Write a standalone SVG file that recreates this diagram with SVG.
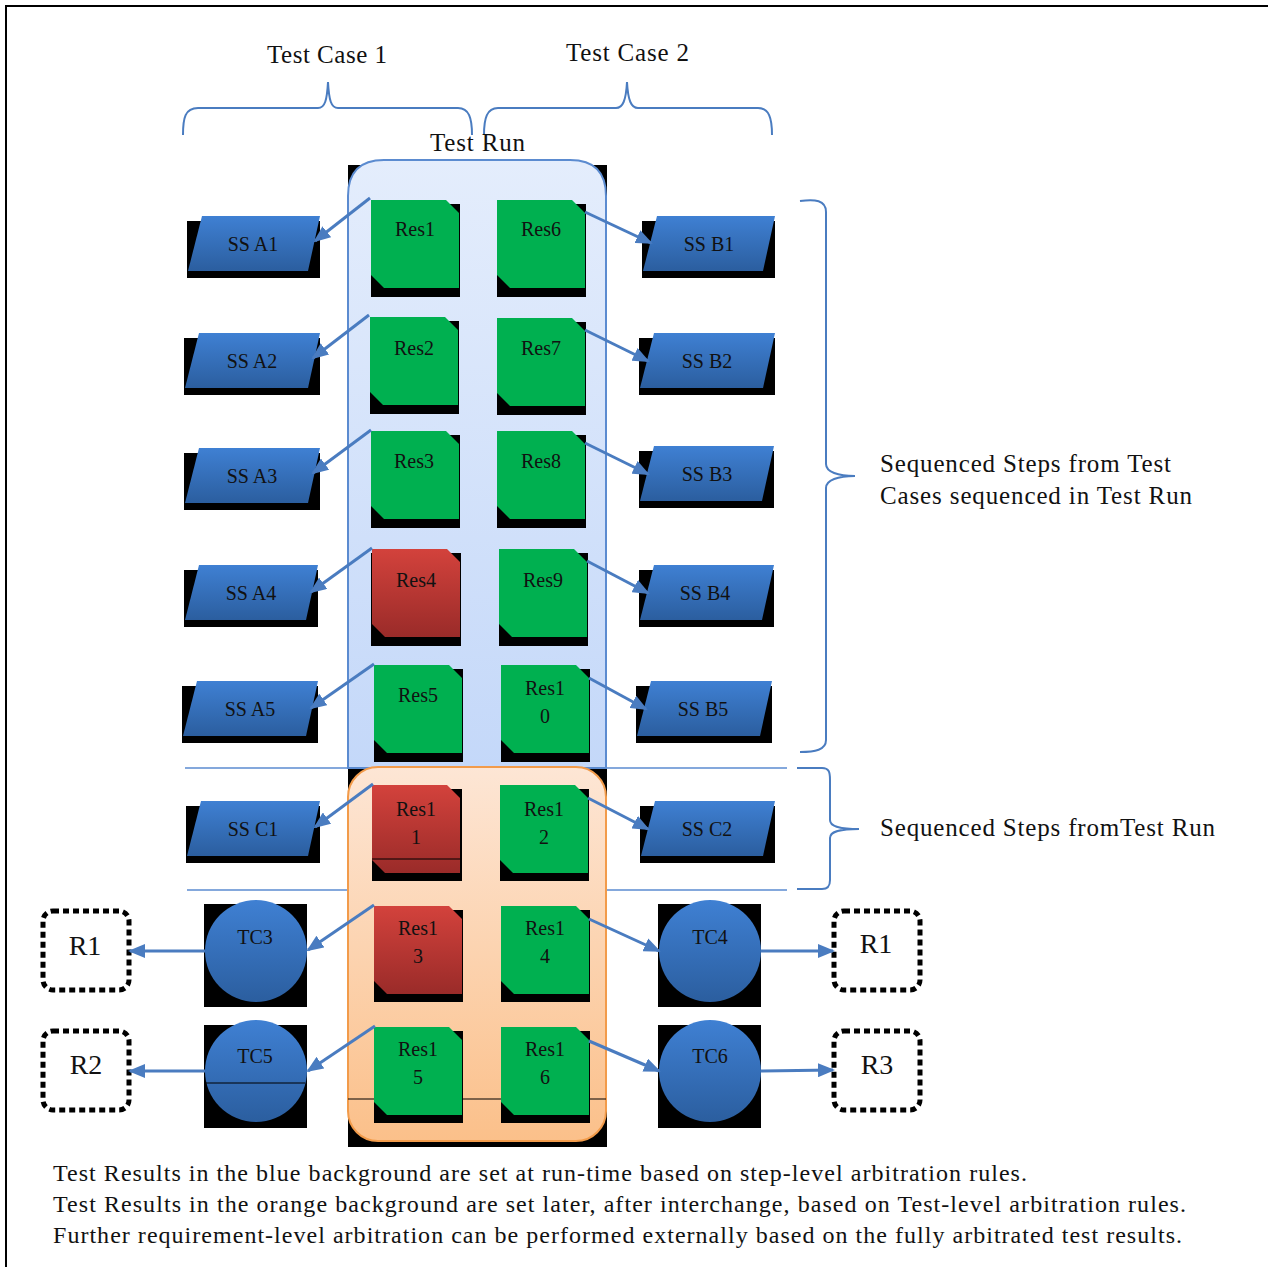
<svg xmlns="http://www.w3.org/2000/svg" width="1268" height="1267" viewBox="0 0 1268 1267">
<defs>
<linearGradient id="gBlue" x1="0" y1="0" x2="0" y2="1"><stop offset="0" stop-color="#3f80d3"/><stop offset="1" stop-color="#2b5e9f"/></linearGradient>
<linearGradient id="gRed" x1="0" y1="0" x2="0" y2="1"><stop offset="0" stop-color="#d3423c"/><stop offset="1" stop-color="#9a2b29"/></linearGradient>
<linearGradient id="gRun" x1="0" y1="0" x2="0" y2="1"><stop offset="0" stop-color="#e4edfc"/><stop offset="1" stop-color="#c4d8f9"/></linearGradient>
<linearGradient id="gOr" x1="0" y1="0" x2="0" y2="1"><stop offset="0" stop-color="#fde6d5"/><stop offset="1" stop-color="#fbc08a"/></linearGradient>
<marker id="ah" markerUnits="userSpaceOnUse" markerWidth="17" markerHeight="14" refX="15" refY="7" orient="auto"><path d="M0,0 L17,7 L0,14 Z" fill="#4a7cc0"/></marker>
<style>
text{font-family:"Liberation Serif","Times New Roman",serif;fill:#111}
.t{font-size:25px}
.lbl{font-size:20px;text-anchor:middle}
.rl{font-size:28px;text-anchor:middle}
.side{font-size:25px}
.note{font-size:24px}
.green{fill:#00b050}
.red{fill:url(#gRed)}
.ss{fill:url(#gBlue)}
.sh{fill:#000}
.conn line, .conn path{stroke:#4a7cc0;stroke-width:3;fill:none;marker-end:url(#ah)}
.brace{stroke:#4a7cc0;stroke-width:2;fill:none}
.sep{stroke:#5b8bd0;stroke-width:1.5}
.rbox{fill:none;stroke:#000;stroke-width:5;stroke-dasharray:6 4}
.art{stroke:#000;stroke-width:1.2}
</style>
</defs>
<rect x="0" y="0" width="1268" height="1267" fill="#fff"/>
<rect x="6" y="6" width="1275" height="1275" fill="none" stroke="#000" stroke-width="2"/>

<!-- titles and braces -->
<g id="labels">
<text class="t" x="267" y="63" textLength="120">Test Case 1</text>
<text class="t" x="566" y="61" textLength="123">Test Case 2</text>
<text class="side" x="880" y="472" textLength="291">Sequenced Steps from Test</text>
<text class="side" x="880" y="504" textLength="312">Cases sequenced in Test Run</text>
<text class="side" x="880" y="836" textLength="335">Sequenced Steps fromTest Run</text>
<text class="note" x="53" y="1181" textLength="974">Test Results in the blue background are set at run-time based on step-level arbitration rules.</text>
<text class="note" x="53" y="1212" textLength="1133">Test Results in the orange background are set later, after interchange, based on Test-level arbitration rules.</text>
<text class="note" x="53" y="1243" textLength="1129">Further requirement-level arbitration can be performed externally based on the fully arbitrated test results.</text>
</g>
<g id="braces">
<path class="brace" d="M183,135 C183,118 185,108 198,108 H318 C325,108 327,100 328,82 C329,100 331,108 338,108 H458 C469,108 472,118 472,135"/>
<path class="brace" d="M484,135 C484,118 487,108 498,108 H616 C623,108 626,100 627,82 C628,100 631,108 638,108 H758 C769,108 772,118 772,135"/>
<path class="brace" d="M800,201 C815,199 826,200 826,212 V464 C826,472 838,476 855,476 C838,476 826,480 826,488 V740 C826,750 815,752 800,752"/>
<path class="brace" d="M797,768 H822 C829,768 830,772 830,780 V820 C830,826 838,829 859,829 C838,829 830,832 830,838 V880 C830,886 828,889 822,889 H797"/>
</g>
<line class="sep" x1="185" y1="768" x2="787" y2="768"/>
<line class="sep" x1="187" y1="890" x2="787" y2="890"/>

<!-- Test Run background -->
<g id="testrun">
<rect class="sh" x="348" y="165" width="259" height="606"/>
<path d="M348,768 V196 Q348,160 384,160 H570 Q606,160 606,196 V768 Z" fill="url(#gRun)" stroke="#5b8bd0" stroke-width="2"/>
<text class="t" x="430" y="151" textLength="95">Test Run</text>
</g>
<g id="orangebg">
<rect class="sh" x="348" y="771" width="259" height="376"/>
<rect x="348" y="767" width="258" height="374" rx="30" fill="url(#gOr)" stroke="#f29b4a" stroke-width="2"/>
<line class="art" x1="348" y1="1099" x2="606" y2="1099"/>
</g>

<!-- Res boxes -->
<g id="res1"><rect class="sh" x="371" y="204" width="89" height="93"/><path class="green" d="M371,200 H446 L459,213 V288 H384 L371,275 Z"/><text class="lbl" x="415" y="236">Res1</text></g>
<g id="res6"><rect class="sh" x="497" y="204" width="89" height="93"/><path class="green" d="M497,200 H572 L585,213 V288 H510 L497,275 Z"/><text class="lbl" x="541" y="236">Res6</text></g>
<g id="res2"><rect class="sh" x="370" y="321" width="89" height="93"/><path class="green" d="M370,317 H445 L458,330 V405 H383 L370,392 Z"/><text class="lbl" x="414" y="355">Res2</text></g>
<g id="res7"><rect class="sh" x="497" y="322" width="89" height="93"/><path class="green" d="M497,318 H572 L585,331 V406 H510 L497,393 Z"/><text class="lbl" x="541" y="355">Res7</text></g>
<g id="res3"><rect class="sh" x="371" y="435" width="89" height="93"/><path class="green" d="M371,431 H446 L459,444 V519 H384 L371,506 Z"/><text class="lbl" x="414" y="468">Res3</text></g>
<g id="res8"><rect class="sh" x="497" y="435" width="89" height="93"/><path class="green" d="M497,431 H572 L585,444 V519 H510 L497,506 Z"/><text class="lbl" x="541" y="468">Res8</text></g>
<g id="res4"><rect class="sh" x="371" y="553" width="90" height="93"/><path class="red" d="M372,549 H447 L460,562 V637 H385 L372,624 Z"/><text class="lbl" x="416" y="587">Res4</text></g>
<g id="res9"><rect class="sh" x="499" y="553" width="89" height="93"/><path class="green" d="M499,549 H574 L587,562 V637 H512 L499,624 Z"/><text class="lbl" x="543" y="587">Res9</text></g>
<g id="res5"><rect class="sh" x="374" y="669" width="89" height="93"/><path class="green" d="M374,665 H449 L462,678 V753 H387 L374,740 Z"/><text class="lbl" x="418" y="702">Res5</text></g>
<g id="res10"><rect class="sh" x="501" y="669" width="89" height="93"/><path class="green" d="M501,665 H576 L589,678 V753 H514 L501,740 Z"/><text class="lbl" x="545" y="695">Res1</text><text class="lbl" x="545" y="723">0</text></g>
<g id="res11"><rect class="sh" x="372" y="789" width="90" height="92"/><path class="red" d="M372,785 H447 L460,798 V873 H385 L372,860 Z"/><line class="art" x1="372" y1="859" x2="461" y2="859"/><text class="lbl" x="416" y="816">Res1</text><text class="lbl" x="416" y="844">1</text></g>
<g id="res12"><rect class="sh" x="500" y="789" width="89" height="92"/><path class="green" d="M500,785 H575 L588,798 V873 H513 L500,860 Z"/><text class="lbl" x="544" y="816">Res1</text><text class="lbl" x="544" y="844">2</text></g>
<g id="res13"><rect class="sh" x="374" y="910" width="89" height="92"/><path class="red" d="M374,906 H449 L462,919 V994 H387 L374,981 Z"/><text class="lbl" x="418" y="935">Res1</text><text class="lbl" x="418" y="963">3</text></g>
<g id="res14"><rect class="sh" x="501" y="910" width="89" height="92"/><path class="green" d="M501,906 H576 L589,919 V994 H514 L501,981 Z"/><text class="lbl" x="545" y="935">Res1</text><text class="lbl" x="545" y="963">4</text></g>
<g id="res15"><rect class="sh" x="374" y="1031" width="89" height="92"/><path class="green" d="M374,1027 H449 L462,1040 V1115 H387 L374,1102 Z"/><text class="lbl" x="418" y="1056">Res1</text><text class="lbl" x="418" y="1084">5</text></g>
<g id="res16"><rect class="sh" x="501" y="1031" width="89" height="92"/><path class="green" d="M501,1027 H576 L589,1040 V1115 H514 L501,1102 Z"/><text class="lbl" x="545" y="1056">Res1</text><text class="lbl" x="545" y="1084">6</text></g>

<!-- SS parallelograms -->
<g id="ssA1"><rect class="sh" x="187" y="221" width="133" height="57"/><polygon class="ss" points="202,216 320,216 308,271 188,271"/><text class="lbl" x="253" y="251">SS A1</text></g>
<g id="ssA2"><rect class="sh" x="184" y="338" width="136" height="57"/><polygon class="ss" points="199,333 320,333 308,388 185,388"/><text class="lbl" x="252" y="368">SS A2</text></g>
<g id="ssA3"><rect class="sh" x="184" y="453" width="136" height="57"/><polygon class="ss" points="199,448 320,448 308,503 185,503"/><text class="lbl" x="252" y="483">SS A3</text></g>
<g id="ssA4"><rect class="sh" x="184" y="570" width="134" height="57"/><polygon class="ss" points="199,565 318,565 306,620 185,620"/><text class="lbl" x="251" y="600">SS A4</text></g>
<g id="ssA5"><rect class="sh" x="182" y="686" width="136" height="57"/><polygon class="ss" points="197,681 318,681 306,736 183,736"/><text class="lbl" x="250" y="716">SS A5</text></g>
<g id="ssC1"><rect class="sh" x="186" y="806" width="134" height="57"/><polygon class="ss" points="201,801 320,801 308,856 187,856"/><text class="lbl" x="253" y="836">SS C1</text></g>
<g id="ssB1"><rect class="sh" x="642" y="221" width="133" height="57"/><polygon class="ss" points="657,216 775,216 763,271 643,271"/><text class="lbl" x="709" y="251">SS B1</text></g>
<g id="ssB2"><rect class="sh" x="639" y="338" width="136" height="57"/><polygon class="ss" points="654,333 775,333 763,388 640,388"/><text class="lbl" x="707" y="368">SS B2</text></g>
<g id="ssB3"><rect class="sh" x="639" y="451" width="135" height="57"/><polygon class="ss" points="654,446 774,446 762,501 640,501"/><text class="lbl" x="707" y="481">SS B3</text></g>
<g id="ssB4"><rect class="sh" x="639" y="570" width="135" height="57"/><polygon class="ss" points="654,565 774,565 762,620 640,620"/><text class="lbl" x="705" y="600">SS B4</text></g>
<g id="ssB5"><rect class="sh" x="636" y="686" width="136" height="57"/><polygon class="ss" points="651,681 772,681 760,736 637,736"/><text class="lbl" x="703" y="716">SS B5</text></g>
<g id="ssC2"><rect class="sh" x="640" y="806" width="135" height="57"/><polygon class="ss" points="655,801 775,801 763,856 641,856"/><text class="lbl" x="707" y="836">SS C2</text></g>

<!-- TC circles -->
<g id="tc3"><rect class="sh" x="204" y="904" width="103" height="103"/><circle class="ss" cx="256" cy="951" r="51"/><text class="lbl" x="255" y="944">TC3</text></g>
<g id="tc5"><rect class="sh" x="204" y="1025" width="103" height="103"/><circle class="ss" cx="256" cy="1071" r="51"/><line class="art" x1="206" y1="1083" x2="305" y2="1083"/><text class="lbl" x="255" y="1063">TC5</text></g>
<g id="tc4"><rect class="sh" x="658" y="904" width="103" height="103"/><circle class="ss" cx="710" cy="951" r="51"/><text class="lbl" x="710" y="944">TC4</text></g>
<g id="tc6"><rect class="sh" x="658" y="1025" width="103" height="103"/><circle class="ss" cx="710" cy="1071" r="51"/><text class="lbl" x="710" y="1063">TC6</text></g>

<!-- Result boxes -->
<g id="r1left"><rect class="rbox" x="43" y="911" width="86" height="79" rx="10"/><text class="rl" x="85" y="955">R1</text></g>
<g id="r2left"><rect class="rbox" x="43" y="1031" width="86" height="79" rx="10"/><text class="rl" x="86" y="1074">R2</text></g>
<g id="r1right"><rect class="rbox" x="834" y="911" width="86" height="79" rx="10"/><text class="rl" x="876" y="953">R1</text></g>
<g id="r3right"><rect class="rbox" x="834" y="1031" width="86" height="79" rx="10"/><text class="rl" x="877" y="1074">R3</text></g>

<!-- connectors -->
<g id="connectors" class="conn">
<line x1="370" y1="198" x2="315" y2="241"/>
<line x1="585" y1="212" x2="651" y2="243"/>
<line x1="369" y1="315" x2="313" y2="358"/>
<line x1="585" y1="330" x2="648" y2="361"/>
<line x1="371" y1="430" x2="313" y2="473"/>
<line x1="585" y1="443" x2="648" y2="474"/>
<line x1="372" y1="548" x2="311" y2="592"/>
<line x1="587" y1="561" x2="648" y2="593"/>
<line x1="374" y1="664" x2="311" y2="708"/>
<line x1="589" y1="678" x2="646" y2="709"/>
<line x1="373" y1="784" x2="315" y2="827"/>
<line x1="588" y1="798" x2="648" y2="829"/>
<line x1="374" y1="905" x2="308" y2="950"/>
<line x1="589" y1="919" x2="659" y2="951"/>
<line x1="375" y1="1026" x2="308" y2="1071"/>
<line x1="589" y1="1041" x2="659" y2="1071"/>
<line x1="205" y1="951" x2="130" y2="951"/>
<line x1="205" y1="1071" x2="130" y2="1071"/>
<line x1="761" y1="951" x2="833" y2="951"/>
<line x1="761" y1="1071" x2="833" y2="1070"/>
</g>
</svg>
